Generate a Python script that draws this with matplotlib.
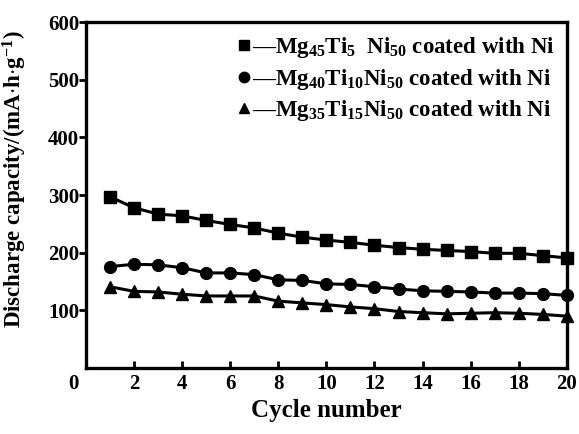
import matplotlib
matplotlib.use("Agg")
import matplotlib.pyplot as plt
from matplotlib.lines import Line2D
from matplotlib.transforms import ScaledTranslation

#------------------------------------------------------------------------
#                           data
#------------------------------------------------------------------------
cycles = list(range(1, 21))
mg45_ti5 = [297, 278, 267, 264, 256, 249, 243, 234, 227, 222,
            218, 213, 209, 206, 204, 202, 199, 199, 195, 191]
mg40_ti10 = [176, 180, 179, 174, 165, 165, 162, 153, 152, 146,
             145, 141, 137, 134, 133, 132, 130, 130, 129, 126]
mg35_ti15 = [141, 133, 132, 128, 125, 125, 125, 116, 113, 110,
             106, 103, 98, 96, 94, 95, 96, 95, 93, 90]

series_labels = ["\u2014Mg$_{45}$Ti$_{5}$  Ni$_{50}$ coated with Ni",
                 "\u2014Mg$_{40}$Ti$_{10}$Ni$_{50}$ coated with Ni",
                 "\u2014Mg$_{35}$Ti$_{15}$Ni$_{50}$ coated with Ni"]
markers = ["s", "o", "^"]

x_ticks = list(range(0, 21, 2))
y_ticks = [100, 200, 300, 400, 500, 600]

#------------------------------------------------------------------------
#                           style
#------------------------------------------------------------------------
plt.rcParams["font.family"] = ["Liberation Serif", "DejaVu Serif"]
plt.rcParams["font.weight"] = "bold"
plt.rcParams["axes.labelweight"] = "bold"
plt.rcParams["mathtext.fontset"] = "custom"
plt.rcParams["mathtext.rm"] = "Liberation Serif:bold"
plt.rcParams["mathtext.it"] = "Liberation Serif:bold"
plt.rcParams["mathtext.bf"] = "Liberation Serif:bold"

fig = plt.figure(figsize=(5.79, 4.34), dpi=100)
ax = fig.add_axes([0.1485, 0.152, 0.8305, 0.797])

for ys, m in zip([mg45_ti5, mg40_ti10, mg35_ti15], markers):
    ax.plot(cycles, ys, color="black", lw=2.2, marker=m, ms=8.5, clip_on=False)

ax.set_xlim(0, 20)
ax.set_ylim(0, 600)
ax.set_xticks(x_ticks)
ax.set_yticks(y_ticks)

for s in ax.spines.values():
    s.set_linewidth(2.4)

ax.tick_params(axis="x", direction="in", length=5, width=2, pad=4, labelsize=15)
ax.tick_params(axis="y", direction="out", length=5, width=2, pad=0, labelsize=15)

# the "0" sits a bit left of the corner in the original
lbl0 = ax.get_xticklabels()[0]
lbl0.set_transform(lbl0.get_transform() + ScaledTranslation(-0.13, 0, fig.dpi_scale_trans))

ax.set_xlabel("Cycle number", fontsize=18, labelpad=4)
ax.set_ylabel(r"Discharge capacity/(mA$\cdot$h$\cdot$g$^{-1}$)", fontsize=16.5)
ax.yaxis.set_label_coords(-0.118, 0.545)

handles = [Line2D([], [], color="black", ls="none", marker=m, ms=7.5) for m in markers]
ax.legend(handles, series_labels, loc="upper right", frameon=False, fontsize=16.5,
          handlelength=0.5, handletextpad=0.1, labelspacing=0.3,
          borderaxespad=0.15, bbox_to_anchor=(1.0, 1.0))

fig.savefig("out.png", dpi=100)
